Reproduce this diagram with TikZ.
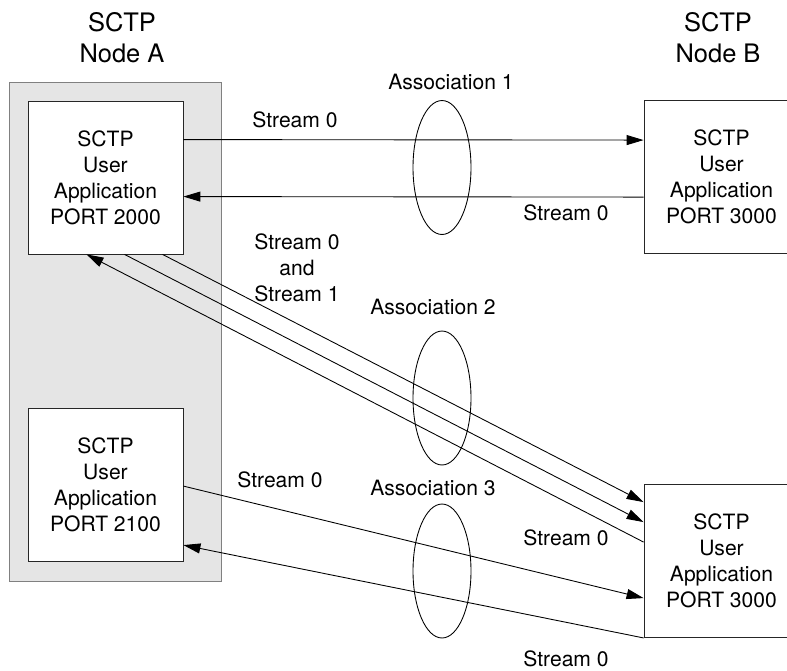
\documentclass[tikz,border=0pt]{standalone}
\usepackage{fontspec}
\setmainfont{TeX Gyre Heros}
\usetikzlibrary{arrows.meta, calc, positioning, shapes.geometric}

\begin{document}
\begin{tikzpicture}[x=0.02cm, y=-0.02cm, line width=0.5pt,
  host/.style={draw=gray, fill=gray!20, minimum width=4.24cm, minimum height=9.98cm},
  app/.style={draw=black!85, fill=white, minimum width=3.1cm, minimum height=3.06cm, align=center, font=\fontsize{12}{14.8}\selectfont},
  title/.style={align=center, font=\fontsize{14.5}{17.5}\selectfont},
  lbl/.style={align=center, font=\fontsize{12}{14.8}\selectfont},
  assoc/.style={draw, ellipse, minimum width=1.16cm, minimum height=2.68cm, inner sep=0pt},
  msg/.style={-{Triangle[length=0.34cm, width=0.2cm]}}]
\useasboundingbox (0,0) rectangle (787,670);

% the two hosts
\node[title] (titleA) at (122,38) {SCTP\\Node A};
\node[title] (titleB) at (718,38) {SCTP\\Node B};
\node[host] (nodeA) at (115,331.5) {};

% user applications
\node[app] (a1) at (105.5,177.5) {SCTP\\User\\Application\\PORT 2000};
\node[app] (a2) at (105.5,485) {SCTP\\User\\Application\\PORT 2100};
\node[app] (b1) at (721.5,177) {SCTP\\User\\Application\\PORT 3000};
\node[app] (b2) at (721.5,561) {SCTP\\User\\Application\\PORT 3000};

% association 1
\draw[msg] ($(a1.north east)+(0,39)$) -- ($(b1.north west)+(0,40)$);
\draw[msg] ($(b1.north west)+(0,97)$) -- ($(a1.north east)+(0,96)$);
\node[assoc] (ass1) at (442,167.5) {};
\node[lbl] (lass1) at (451,82) {Association 1};
\node[lbl] (s1a) at (295,120) {Stream 0};
\node[lbl] (s1b) at (566,213) {Stream 0};

% association 2
\draw[msg] ($(a1.south west)+(135,0)$) -- ($(b2.north west)+(0,18)$);
\draw[msg] ($(a1.south west)+(97,0)$) -- ($(b2.north west)+(0,38)$);
\draw[msg] ($(b2.north west)+(0,58)$) -- ($(a1.south west)+(59,0)$);
\node[assoc] (ass2) at (442,398) {};
\node[lbl] (lass2) at (433,307) {Association 2};
\node[lbl] (s2a) at (297,268) {Stream 0\\and\\Stream 1};
\node[lbl] (s2b) at (566,538) {Stream 0};

% association 3
\draw[msg] ($(a2.north east)+(0,78)$) -- ($(b2.north west)+(0,114)$);
\draw[msg] (b2.south west) -- ($(a2.north east)+(0,137)$);
\node[assoc] (ass3) at (442,571) {};
\node[lbl] (lass3) at (433,488) {Association 3};
\node[lbl] (s3a) at (280,480) {Stream 0};
\node[lbl] (s3b) at (566,659) {Stream 0};
\end{tikzpicture}
\end{document}
